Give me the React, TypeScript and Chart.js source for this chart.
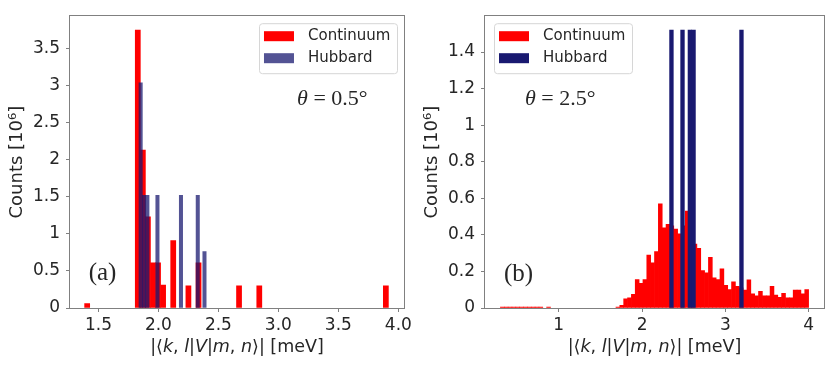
import React, { useEffect, useRef } from "react";
import { Chart, registerables } from "chart.js";

Chart.register(...registerables);

// ---------- data ----------
const seriesLabels = ["Continuum", "Hubbard"];

// panel (a), theta = 0.5°
const aContinuumStart = 1.385;
const aContinuumBinWidth = 0.0422;
const aContinuum = [
  0.06, 0, 0, 0, 0, 0, 0, 0, 0, 0,
  3.75, 2.13, 1.23, 0.61, 0.61, 0.31, 0, 0.91, 0, 0,
  0.3, 0, 0.61, 0, 0, 0, 0, 0, 0, 0,
  0.3, 0, 0, 0, 0.3, 0, 0, 0, 0, 0,
  0, 0, 0, 0, 0, 0, 0, 0, 0, 0,
  0, 0, 0, 0, 0, 0, 0, 0, 0, 0.3,
];
const aHubbardStart = 1.838;
const aHubbardBinWidth = 0.028;
const aHubbard = [
  3.04, 1.52, 1.52, 0, 0, 1.52, 0, 0, 0, 0,
  0, 0, 1.52, 0, 0, 0, 0, 1.52, 0, 0.76,
];
const aXRange = [1.263, 4.047];
const aYMax = 3.9375;
const aXTicks = [1.5, 2.0, 2.5, 3.0, 3.5, 4.0];
const aXTickLabels = ["1.5", "2.0", "2.5", "3.0", "3.5", "4.0"];
const aYTicks = [0, 0.5, 1, 1.5, 2, 2.5, 3, 3.5];
const aYTickLabels = ["0", "0.5", "1", "1.5", "2", "2.5", "3", "3.5"];

// panel (b), theta = 2.5°
const bContinuumStart = 0.299;
const bContinuumBinWidth = 0.046264;
const bContinuum = [
  0.005, 0.005, 0.005, 0.005, 0.005, 0.005, 0.005, 0.005, 0.005, 0.005,
  0.005, 0, 0.005, 0, 0, 0, 0, 0, 0, 0,
  0, 0, 0, 0, 0, 0, 0, 0, 0, 0,
  0.005, 0.015, 0.05, 0.055, 0.075, 0.155, 0.135, 0.155, 0.29, 0.247,
  0.309, 0.57, 0.438, 0.458, 0.45, 0.432, 0.405, 0.45, 0.53, 0.4,
  0.35, 0.326, 0.205, 0.192, 0.277, 0.165, 0.155, 0.214, 0.124, 0.101,
  0.143, 0.119, 0.11, 0.098, 0.154, 0.077, 0.066, 0.091, 0.066, 0.066,
  0.119, 0.07, 0.059, 0.08, 0.055, 0.055, 0.098, 0.098, 0.077, 0.101,
];
const bHubbardStart = 2.331;
const bHubbardBinWidth = 0.04425;
const bHubbard = [
  1.52, 0, 0, 1.52, 0, 1.52, 1.52, 0, 0, 0,
  0, 0, 0, 0, 0, 0, 0, 0, 0, 1.52,
];
const bXRange = [0.114, 4.185];
const bYMax = 1.596;
const bXTicks = [1, 2, 3, 4];
const bXTickLabels = ["1", "2", "3", "4"];
const bYTicks = [0, 0.2, 0.4, 0.6, 0.8, 1, 1.2, 1.4];
const bYTickLabels = ["0", "0.2", "0.4", "0.6", "0.8", "1", "1.2", "1.4"];

const yTitle = "Counts [10⁶]";

// ---------- styles ----------
const RED = "#ff0000";
const TEXT = "#262626";
const FRAME = "#808080";
const SANS = '"DejaVu Sans"';
const SERIF = '"Liberation Serif"';

type Part = [string, string];

const xTitleParts: Part[] = [
  ["|⟨", `17.5px ${SANS}`],
  ["k", `italic 17.5px ${SANS}`],
  [", ", `17.5px ${SANS}`],
  ["l", `italic 17.5px ${SANS}`],
  ["|", `17.5px ${SANS}`],
  ["V", `italic 17.5px ${SANS}`],
  ["|", `17.5px ${SANS}`],
  ["m", `italic 17.5px ${SANS}`],
  [", ", `17.5px ${SANS}`],
  ["n", `italic 17.5px ${SANS}`],
  ["⟩| [meV]", `17.5px ${SANS}`],
];

function drawParts(ctx: CanvasRenderingContext2D, parts: Part[], x: number, y: number, center: boolean) {
  let total = 0;
  for (const [t, f] of parts) {
    ctx.font = f;
    total += ctx.measureText(t).width;
  }
  let cx = center ? x - total / 2 : x;
  ctx.textBaseline = "middle";
  ctx.textAlign = "left";
  for (const [t, f] of parts) {
    ctx.font = f;
    ctx.fillText(t, cx, y);
    cx += ctx.measureText(t).width;
  }
}

const framePlugin = {
  id: "frame",
  afterDatasetsDraw(chart: any) {
    const { ctx, chartArea: ca } = chart;
    ctx.save();
    ctx.strokeStyle = FRAME;
    ctx.lineWidth = 1;
    const l = Math.round(ca.left) - 0.5;
    const t = Math.round(ca.top) - 0.5;
    const r = Math.round(ca.right) + 0.5;
    const b = Math.round(ca.bottom) + 0.5;
    ctx.strokeRect(l, t, r - l, b - t);
    ctx.restore();
  },
};

const decorPlugin = {
  id: "decor",
  afterDraw(chart: any, _args: any, opts: any) {
    const { ctx, chartArea: ca } = chart;
    ctx.save();
    ctx.fillStyle = TEXT;
    // x-axis title
    drawParts(ctx, xTitleParts, (ca.left + ca.right) / 2, chart.height - 20, true);
    // annotations
    for (const a of opts.notes) {
      drawParts(ctx, a.parts, ca.left + a.fx * (ca.right - ca.left), ca.top + a.fy * (ca.bottom - ca.top), false);
    }
    // legend
    const w = 138;
    const h = 50;
    const x0 = opts.legendSide === "right" ? ca.right - 7 - w : ca.left + 9;
    const y0 = ca.top + 7;
    ctx.beginPath();
    ctx.roundRect(x0 + 0.5, y0 + 0.5, w, h, 3);
    ctx.fillStyle = "rgba(255,255,255,0.8)";
    ctx.fill();
    ctx.strokeStyle = "#d6d6d6";
    ctx.lineWidth = 1;
    ctx.stroke();
    chart.data.datasets.forEach((ds: any, i: number) => {
      const cy = y0 + 13 + i * 22;
      ctx.fillStyle = ds.backgroundColor;
      ctx.fillRect(x0 + 5, cy - 5, 30, 10);
      ctx.fillStyle = TEXT;
      ctx.font = `15px ${SANS}`;
      ctx.textBaseline = "middle";
      ctx.textAlign = "left";
      ctx.fillText(ds.label, x0 + 49, cy);
    });
    ctx.restore();
  },
};

type Spec = {
  cStart: number; cWidth: number; cont: number[];
  hStart: number; hWidth: number; hub: number[];
  hubColor: string;
  xRange: number[]; yMax: number;
  xTicks: number[]; xLabels: string[];
  yTicks: number[]; yLabels: string[];
  padRight: number;
  legendSide: string;
  notes: { parts: Part[]; fx: number; fy: number }[];
};

function toBars(start: number, width: number, vals: number[]) {
  return vals.map((v, i) => ({ x: start + (i + 0.5) * width, y: v > 0 ? v : null }));
}

function buildConfig(s: Spec): any {
  const tickFont = { family: "DejaVu Sans", size: 17 };
  const grid = { display: true, drawOnChartArea: false, drawTicks: true, tickLength: 4, color: FRAME, offset: false };
  return {
    type: "bar",
    data: {
      datasets: [
        {
          label: seriesLabels[0],
          data: toBars(s.cStart, s.cWidth, s.cont),
          xAxisID: "x",
          backgroundColor: RED,
          barPercentage: 1,
          categoryPercentage: 1,
          grouped: false,
          order: 1,
        },
        {
          label: seriesLabels[1],
          data: toBars(s.hStart, s.hWidth, s.hub),
          xAxisID: "x2",
          backgroundColor: s.hubColor,
          barPercentage: 1,
          categoryPercentage: 1,
          grouped: false,
          order: 0,
        },
      ],
    },
    options: {
      animation: false,
      responsive: false,
      devicePixelRatio: 1,
      layout: { padding: { top: 7, right: s.padRight, left: 0, bottom: 0 } },
      plugins: {
        legend: { display: false },
        tooltip: { enabled: false },
        decor: { notes: s.notes, legendSide: s.legendSide },
      },
      scales: {
        x: {
          type: "linear",
          position: "bottom",
          offset: false,
          min: s.xRange[0],
          max: s.xRange[1],
          afterBuildTicks: (sc: any) => { sc.ticks = s.xTicks.map((v) => ({ value: v })); },
          afterFit: (sc: any) => { sc.height = 59; },
          ticks: {
            callback: (_v: any, i: number) => s.xLabels[i],
            font: tickFont,
            color: TEXT,
            padding: 3,
            maxRotation: 0,
            autoSkip: false,
          },
          grid,
          border: { display: false },
        },
        x2: {
          type: "linear",
          display: false,
          offset: false,
          min: s.xRange[0],
          max: s.xRange[1],
        },
        y: {
          type: "linear",
          position: "left",
          min: 0,
          max: s.yMax,
          afterBuildTicks: (sc: any) => { sc.ticks = s.yTicks.map((v) => ({ value: v })); },
          afterFit: (sc: any) => { sc.width = 70; },
          ticks: {
            callback: (_v: any, i: number) => s.yLabels[i],
            font: tickFont,
            color: TEXT,
            padding: 6,
            autoSkip: false,
          },
          grid,
          border: { display: false },
          title: {
            display: true,
            text: yTitle,
            font: { family: "DejaVu Sans", size: 18 },
            color: TEXT,
            padding: { top: 7, bottom: 0 },
          },
        },
      },
    },
    plugins: [framePlugin, decorPlugin],
  };
}

const specA: Spec = {
  cStart: aContinuumStart, cWidth: aContinuumBinWidth, cont: aContinuum,
  hStart: aHubbardStart, hWidth: aHubbardBinWidth, hub: aHubbard,
  hubColor: "rgba(25,25,112,0.75)",
  xRange: aXRange, yMax: aYMax,
  xTicks: aXTicks, xLabels: aXTickLabels,
  yTicks: aYTicks, yLabels: aYTickLabels,
  padRight: 8,
  legendSide: "right",
  notes: [
    { parts: [["θ", `italic 22px ${SERIF}`], [" = 0.5°", `22px ${SERIF}`]], fx: 0.68, fy: 0.283 },
    { parts: [["(a)", `25px ${SERIF}`]], fx: 0.056, fy: 0.882 },
  ],
};

const specB: Spec = {
  cStart: bContinuumStart, cWidth: bContinuumBinWidth, cont: bContinuum,
  hStart: bHubbardStart, hWidth: bHubbardBinWidth, hub: bHubbard,
  hubColor: "#191970",
  xRange: bXRange, yMax: bYMax,
  xTicks: bXTicks, xLabels: bXTickLabels,
  yTicks: bYTicks, yLabels: bYTickLabels,
  padRight: 6,
  legendSide: "left",
  notes: [
    { parts: [["θ", `italic 22px ${SERIF}`], [" = 2.5°", `22px ${SERIF}`]], fx: 0.118, fy: 0.283 },
    { parts: [["(b)", `25px ${SERIF}`]], fx: 0.056, fy: 0.885 },
  ],
};

function Panel({ spec }: { spec: Spec }) {
  const ref = useRef<HTMLCanvasElement>(null);
  useEffect(() => {
    const chart = new Chart(ref.current as HTMLCanvasElement, buildConfig(spec));
    return () => chart.destroy();
  }, [spec]);
  return <canvas ref={ref} width={415} height={367} style={{ display: "block", width: 415, height: 367 }} />;
}

export default function App() {
  return (
    <div style={{ position: "absolute", left: 0, top: 0, width: 830, height: 367, display: "flex", background: "#fff" }}>
      <Panel spec={specA} />
      <Panel spec={specB} />
    </div>
  );
}
